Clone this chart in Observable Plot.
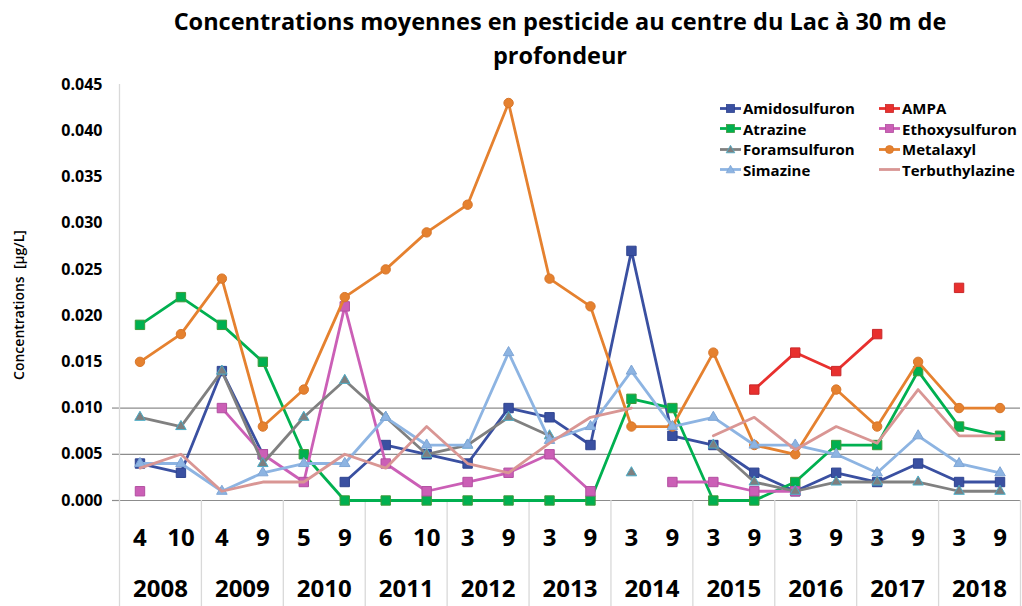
<!DOCTYPE html>
<html>
<head>
<meta charset="utf-8">
<script src="https://cdn.jsdelivr.net/npm/d3@7"></script>
<script src="https://cdn.jsdelivr.net/npm/@observablehq/plot@0.6"></script>
<style>
  html, body { margin: 0; padding: 0; background: #fff; }
  body { font-family: "Open Sans", "DejaVu Sans", sans-serif; }
  #wrap { position: relative; width: 1022px; height: 606px; overflow: hidden; background: #fff; }
  #title { position: absolute; left: 98px; width: 924px; top: 4px; text-align: center;
           font-weight: 700; font-size: 23.5px; line-height: 34px; color: #000; }
  #chart { position: absolute; left: 0; top: 78px; }
  #ylabel { position: absolute; left: 18px; top: 305px; transform: translate(-50%, -50%) rotate(-90deg);
            white-space: nowrap; font-weight: 600; font-size: 14px; color: #000; }
  .leg { position: absolute; display: flex; align-items: center; font-weight: 700; font-size: 15px;
         color: #000; white-space: nowrap; height: 20px; }
  .leg svg { margin-right: 1px; }
</style>
</head>
<body>
<div id="wrap">
  <div id="title">Concentrations moyennes en pesticide au centre du Lac à 30 m de<br>profondeur</div>
  <div id="chart"></div>
  <div id="ylabel">Concentrations&nbsp;&nbsp;[µg/L]</div>
  <div id="legend"></div>
</div>
<script>
// ---- Data (µg/L), null = not measured / not detected ----
const months = [4, 10, 4, 9, 5, 9, 6, 10, 3, 9, 3, 9, 3, 9, 3, 9, 3, 9, 3, 9, 3, 9];
const years = [2008, 2009, 2010, 2011, 2012, 2013, 2014, 2015, 2016, 2017, 2018];
const yTicks = [0, 0.005, 0.010, 0.015, 0.020, 0.025, 0.030, 0.035, 0.040, 0.045];
const gridTicks = [0, 0.005, 0.010];

const amidosulfuron = [0.004, 0.003, 0.014, 0.005, null, 0.002, 0.006, 0.005, 0.004, 0.010, 0.009, 0.006, 0.027, 0.007, 0.006, 0.003, 0.001, 0.003, 0.002, 0.004, 0.002, 0.002];
const ampa = [null, null, null, null, null, null, null, null, null, null, null, null, null, null, null, 0.012, 0.016, 0.014, 0.018, null, 0.023, null];
const atrazine = [0.019, 0.022, 0.019, 0.015, 0.005, 0, 0, 0, 0, 0, 0, 0, 0.011, 0.010, 0, 0, 0.002, 0.006, 0.006, 0.014, 0.008, 0.007];
const ethoxysulfuron = [0.001, null, 0.010, 0.005, 0.002, 0.021, 0.004, 0.001, 0.002, 0.003, 0.005, 0.001, null, 0.002, 0.002, 0.001, 0.001, null, null, null, null, null];
const foramsulfuron = [0.009, 0.008, 0.014, 0.004, 0.009, 0.013, 0.009, 0.005, 0.006, 0.009, 0.007, null, 0.003, null, 0.006, 0.002, 0.001, 0.002, 0.002, 0.002, 0.001, 0.001];
const metalaxyl = [0.015, 0.018, 0.024, 0.008, 0.012, 0.022, 0.025, 0.029, 0.032, 0.043, 0.024, 0.021, 0.008, 0.008, 0.016, 0.006, 0.005, 0.012, 0.008, 0.015, 0.010, 0.010];
const simazine = [0.004, 0.004, 0.001, 0.003, 0.004, 0.004, 0.009, 0.006, 0.006, 0.016, 0.0065, 0.008, 0.014, 0.008, 0.009, 0.006, 0.006, 0.005, 0.003, 0.007, 0.004, 0.003];
const terbuthylazine = [0.0035, 0.005, 0.001, 0.002, 0.002, 0.005, 0.0035, 0.008, 0.004, 0.003, 0.0062, 0.009, 0.010, null, 0.007, 0.009, 0.0055, 0.008, 0.0062, 0.012, 0.007, 0.007];

const seriesNames = ["Amidosulfuron", "AMPA", "Atrazine", "Ethoxysulfuron", "Foramsulfuron", "Metalaxyl", "Simazine", "Terbuthylazine"];
const seriesValues = [amidosulfuron, ampa, atrazine, ethoxysulfuron, foramsulfuron, metalaxyl, simazine, terbuthylazine];
const seriesColors = ["#3A50A1", "#E8302E", "#00B050", "#CB5FB6", "#808080", "#E5812F", "#8DB4E2", "#D99694"];
const markerFill   = ["#3A50A1", "#E8302E", "#00B050", "#CB5FB6", "#7F7F7F", "#E5812F", "#8DB4E2", null];
const markerStroke = ["#2F4490", "#C9282A", "#3E9A3A", "#B24FA0", "#4BACC6", "#D8762A", "#7FA6D6", null];
const markerSymbol = ["square", "square", "square", "square", "triangle", "circle", "triangle", null];
const markerR      = [5.3, 5.3, 5.3, 5.3, 3.9, 4.7, 3.9, 0];

// ---- Build tidy table ----
const table = [];
seriesNames.forEach((name, s) => {
  seriesValues[s].forEach((v, i) => table.push({name, s, i, v}));
});
const monthTable = months.map((m, i) => ({i, m}));
const yearTable = years.map((y, k) => ({x: 2 * k + 0.5, y}));
const boundaries = d3.range(years.length + 1).map(k => 2 * k - 0.5);

const marks = [
  Plot.gridY(gridTicks, {stroke: "#8C8C8C", strokeOpacity: 1, strokeWidth: 1.2}),
  Plot.axisY(gridTicks, {tickSize: 7, tickFormat: () => "", stroke: "#8C8C8C", strokeWidth: 1.2, label: null}),
  Plot.axisY(yTicks, {tickSize: 0, tickPadding: 17, tickFormat: d3.format(".3f"), label: null,
    fontSize: 16, fontWeight: 700, fill: "#000"}),
  Plot.ruleX([-0.5], {stroke: "#D9D9D9", strokeWidth: 1.3}),
  Plot.ruleX(boundaries, {y1: 0, y2: -0.0125, stroke: "#D9D9D9", strokeWidth: 1.3}),
  Plot.text(monthTable, {x: "i", y: () => 0, text: d => String(d.m), dy: 38, fontSize: 24, fontWeight: 700, fill: "#000"}),
  Plot.text(yearTable, {x: "x", y: () => 0, text: d => String(d.y), dy: 89, fontSize: 24, fontWeight: 700, fill: "#000"})
];

seriesNames.forEach((name, s) => {
  const d = table.filter(r => r.s === s);
  marks.push(Plot.line(d, {x: "i", y: "v", stroke: seriesColors[s], strokeWidth: 2.8, strokeLinejoin: "round", strokeLinecap: "round"}));
  if (markerSymbol[s]) {
    marks.push(Plot.dot(d.filter(r => r.v != null), {x: "i", y: "v", symbol: markerSymbol[s], r: markerR[s],
      fill: markerFill[s], stroke: markerStroke[s], strokeWidth: 1}));
  }
});

const chart = Plot.plot({
  width: 1022,
  height: 528,
  marginTop: 6,
  marginBottom: 106,
  marginLeft: 119,
  marginRight: 2,
  style: {fontFamily: "'Open Sans', sans-serif", background: "transparent", overflow: "visible"},
  x: {type: "linear", domain: [-0.5, 21.5], axis: null},
  y: {type: "linear", domain: [0, 0.045], axis: null},
  marks
});
document.getElementById("chart").appendChild(chart);

// ---- Legend (HTML) ----
const legend = document.getElementById("legend");
const legendX = [720, 879];
const legendY = [98, 118.5, 139, 159.5];
seriesNames.forEach((name, s) => {
  const col = s % 2, row = Math.floor(s / 2);
  const item = document.createElement("div");
  item.className = "leg";
  item.style.left = legendX[col] + "px";
  item.style.top = legendY[row] + "px";
  const sym = markerSymbol[s];
  let marker = "";
  if (sym === "square") marker = `<rect x="6.5" y="2.5" width="8" height="8" fill="${markerFill[s]}" stroke="${markerStroke[s]}" stroke-width="0.8"/>`;
  else if (sym === "circle") marker = `<circle cx="10.5" cy="6.5" r="4" fill="${markerFill[s]}" stroke="${markerStroke[s]}" stroke-width="0.8"/>`;
  else if (sym === "triangle") marker = `<path d="M10.5,2.3 L14.8,9.8 L6.2,9.8 Z" fill="${markerFill[s]}" stroke="${markerStroke[s]}" stroke-width="0.8"/>`;
  item.innerHTML = `<svg width="22" height="13" viewBox="0 0 22 13"><line x1="0" y1="6.5" x2="21" y2="6.5" stroke="${seriesColors[s]}" stroke-width="2.8"/>${marker}</svg><span>${name}</span>`;
  legend.appendChild(item);
});
</script>
</body>
</html>
